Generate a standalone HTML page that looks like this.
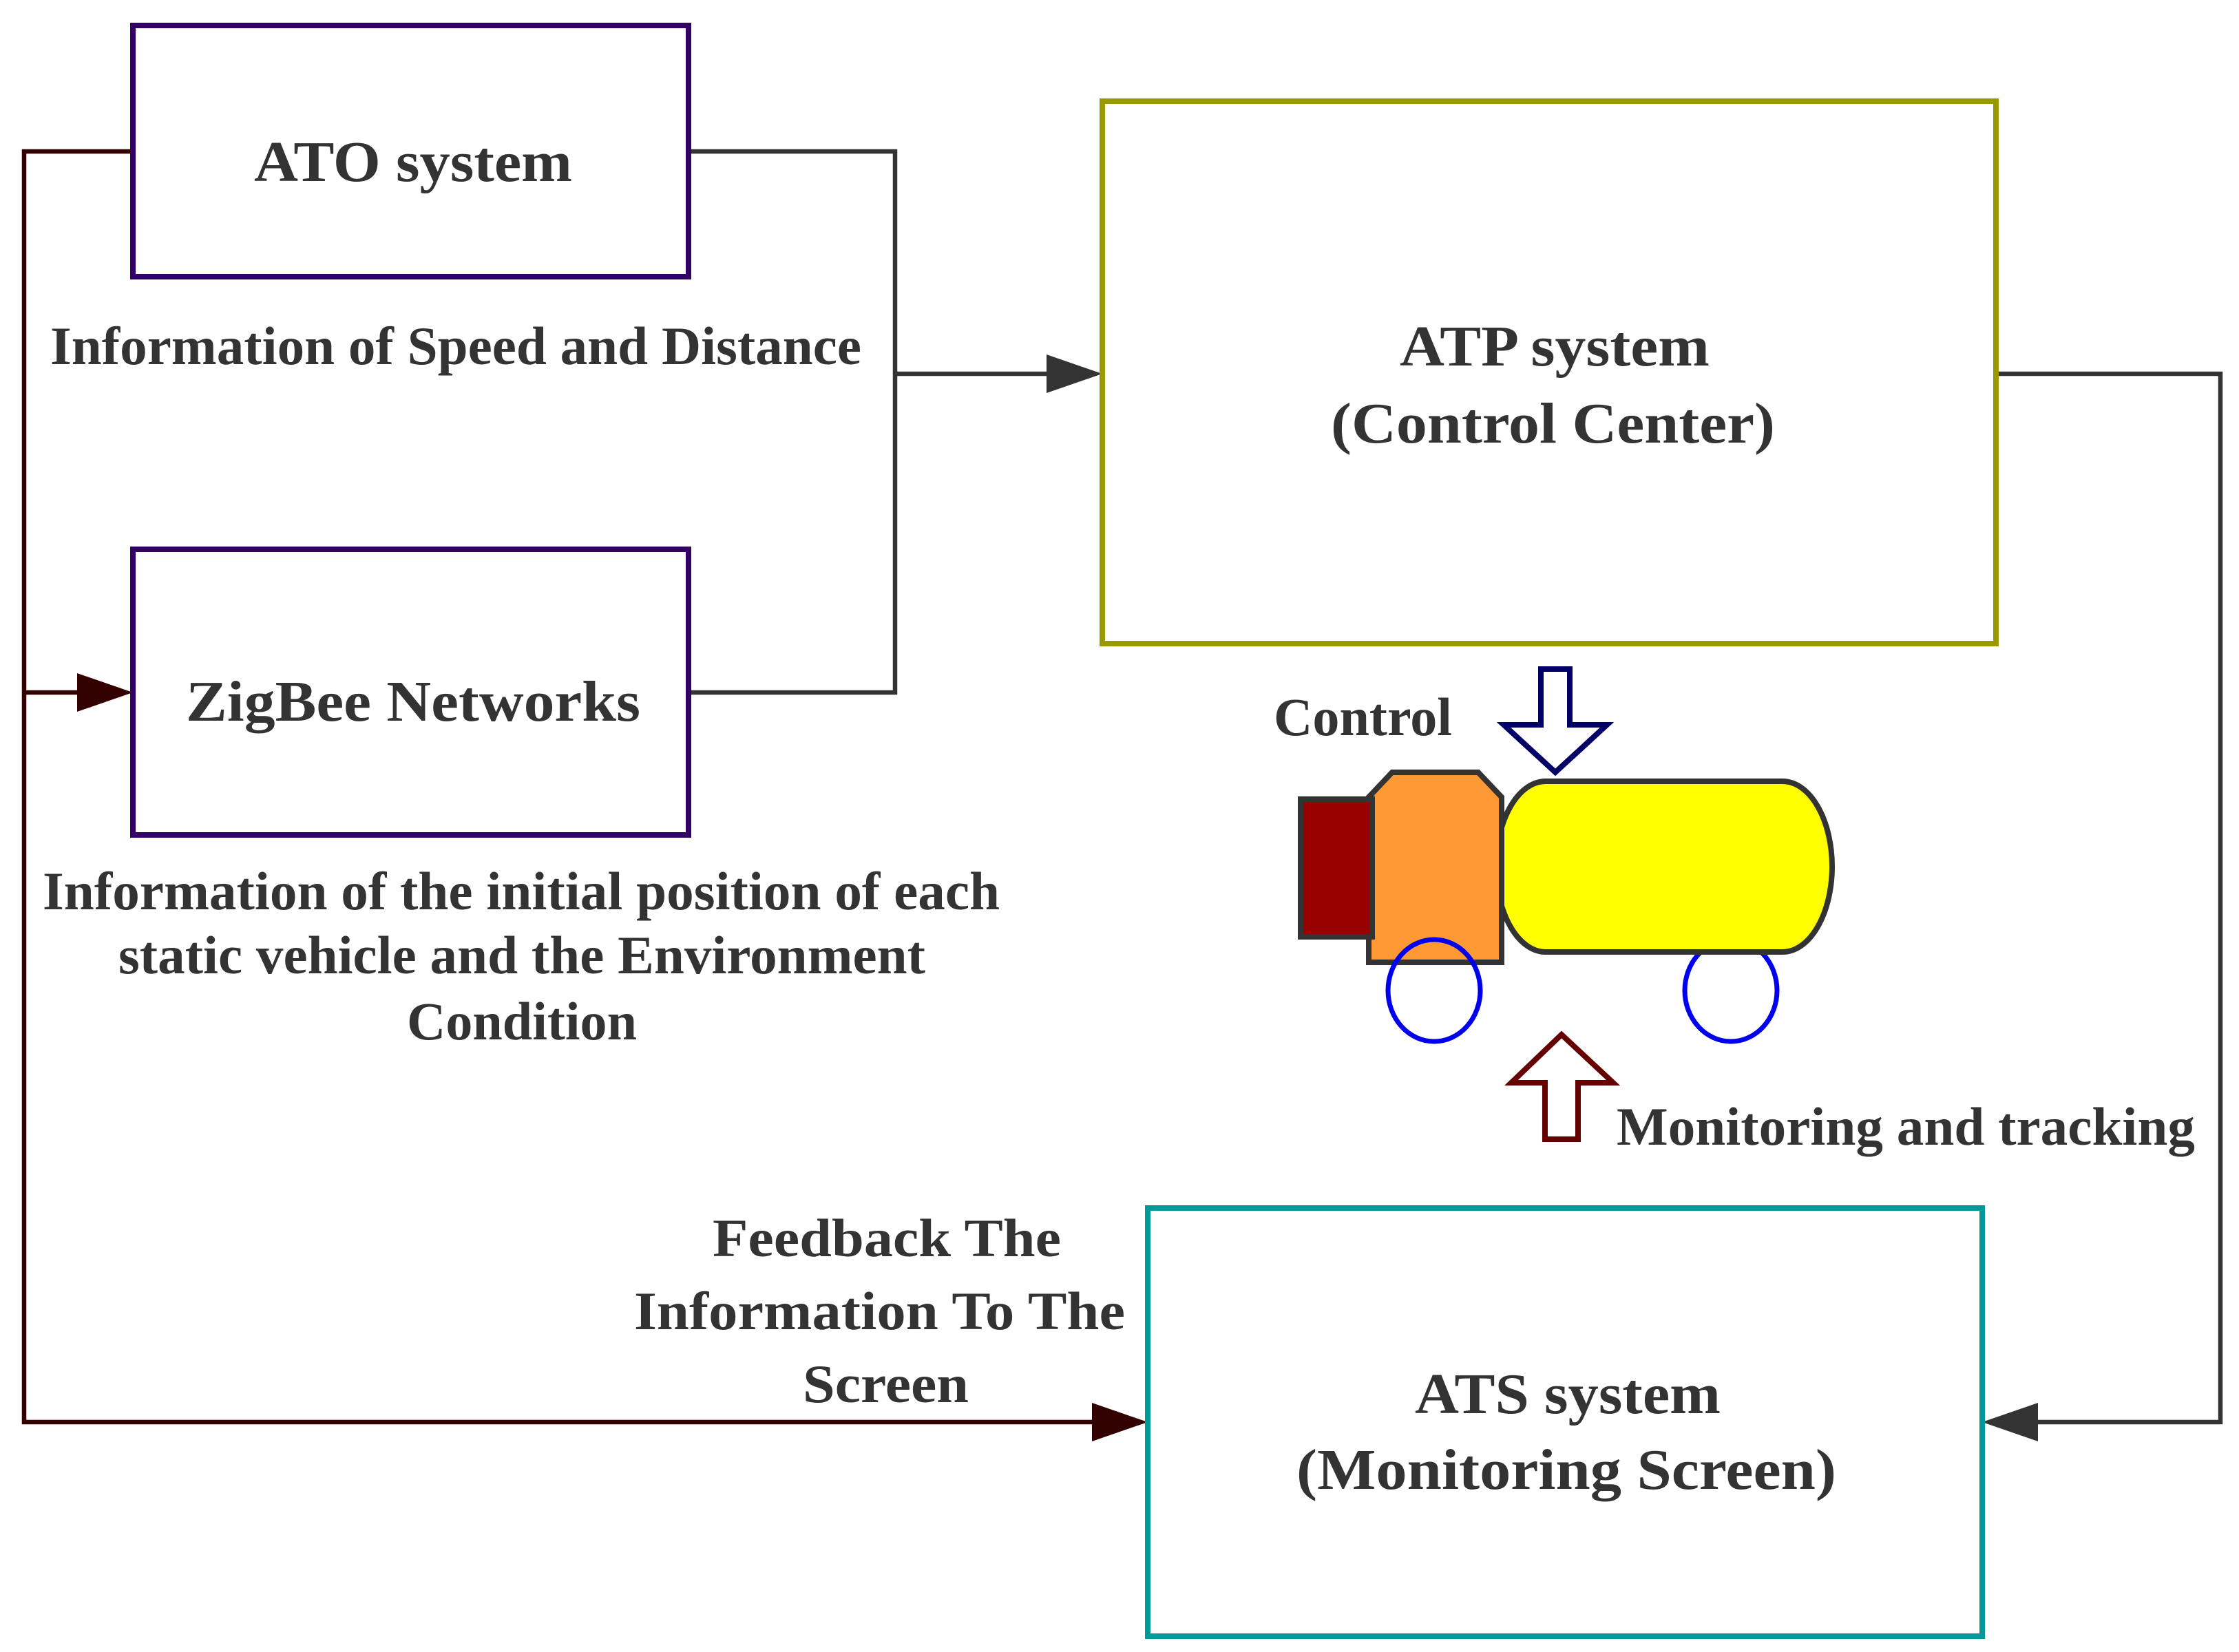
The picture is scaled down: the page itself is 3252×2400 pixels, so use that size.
<!DOCTYPE html>
<html><head><meta charset="utf-8"><style>html,body{margin:0;padding:0;background:#fff}svg{display:block}</style></head>
<body>
<svg width="3252" height="2400" viewBox="0 0 3252 2400" xmlns="http://www.w3.org/2000/svg">
<rect width="3252" height="2400" fill="#fff"/>
<g fill="none" stroke-width="6.5" stroke-linejoin="miter">
  <polyline points="193,220 35,220 35,2066 1600,2066" stroke="#330000"/>
  <line x1="35" y1="1006" x2="130" y2="1006" stroke="#330000"/>
  <polyline points="1000,220 1300,220 1300,1006 1000,1006" stroke="#333"/>
  <line x1="1300" y1="543" x2="1530" y2="543" stroke="#333"/>
  <polyline points="2899,543 3225,543 3225,2066 2950,2066" stroke="#333"/>
</g>
<polygon points="1601,543 1520,515 1520,571" fill="#333"/>
<polygon points="193,1006 112,978 112,1034" fill="#330000"/>
<polygon points="1667,2066 1586,2038 1586,2094" fill="#330000"/>
<polygon points="2879,2066 2960,2038 2960,2094" fill="#333"/>
<rect x="193" y="37" width="807" height="365" fill="none" stroke="#330066" stroke-width="8"/>
<rect x="193" y="798" width="807" height="415" fill="none" stroke="#330066" stroke-width="8"/>
<rect x="1601" y="147" width="1298" height="788" fill="none" stroke="#999900" stroke-width="8"/>
<rect x="1667" y="1755" width="1212" height="622" fill="none" stroke="#009999" stroke-width="8"/>
<ellipse cx="2514" cy="1439" rx="67" ry="74" fill="none" stroke="#0000ee" stroke-width="7"/>
<rect x="2173" y="1135" width="488" height="248" rx="72" ry="124" fill="#ffff00" stroke="#333" stroke-width="8"/>
<polygon points="1988,1158 2022,1122 2147,1122 2181,1158 2181,1398 1988,1398" fill="#ff9933" stroke="#333" stroke-width="8"/>
<rect x="1889" y="1161" width="104" height="200" fill="#990000" stroke="#333" stroke-width="8"/>
<ellipse cx="2083" cy="1439" rx="67" ry="74" fill="none" stroke="#0000ee" stroke-width="7"/>
<polygon points="2238,972 2280,972 2280,1053 2334,1053 2259,1122 2184,1053 2238,1053" fill="#fff" stroke="#000066" stroke-width="8"/>
<polygon points="2244,1655 2292,1655 2292,1573 2343,1573 2268,1503 2195,1573 2244,1573" fill="#fff" stroke="#660000" stroke-width="8"/>
<g font-family="'Liberation Serif', serif" font-weight="bold" fill="#333" font-size="84">
  <text x="369" y="263" textLength="462" lengthAdjust="spacingAndGlyphs">ATO system</text>
  <text x="270" y="1047" textLength="660" lengthAdjust="spacingAndGlyphs">ZigBee Networks</text>
  <text x="2033" y="531" textLength="450" lengthAdjust="spacingAndGlyphs">ATP system</text>
  <text x="1933" y="643" textLength="645" lengthAdjust="spacingAndGlyphs">(Control Center)</text>
  <text x="2055" y="2053" textLength="444" lengthAdjust="spacingAndGlyphs">ATS system</text>
  <text x="1883" y="2163" textLength="784" lengthAdjust="spacingAndGlyphs">(Monitoring Screen)</text>
</g>
<g font-family="'Liberation Serif', serif" font-weight="bold" fill="#333" font-size="78">
  <text x="73" y="529" textLength="1178" lengthAdjust="spacingAndGlyphs">Information of Speed and Distance</text>
  <text x="62" y="1321" textLength="1390" lengthAdjust="spacingAndGlyphs">Information of the initial position of each</text>
  <text x="172" y="1414" textLength="1172" lengthAdjust="spacingAndGlyphs">static vehicle and the Environment</text>
  <text x="591" y="1510" textLength="334" lengthAdjust="spacingAndGlyphs">Condition</text>
  <text x="1850" y="1068" textLength="259" lengthAdjust="spacingAndGlyphs">Control</text>
  <text x="2348" y="1663" textLength="840" lengthAdjust="spacingAndGlyphs">Monitoring and tracking</text>
  <text x="1035" y="1825" textLength="506" lengthAdjust="spacingAndGlyphs">Feedback The</text>
  <text x="921" y="1931" textLength="713" lengthAdjust="spacingAndGlyphs">Information To The</text>
  <text x="1166" y="2037" textLength="241" lengthAdjust="spacingAndGlyphs">Screen</text>
</g>
</svg>
</body></html>
